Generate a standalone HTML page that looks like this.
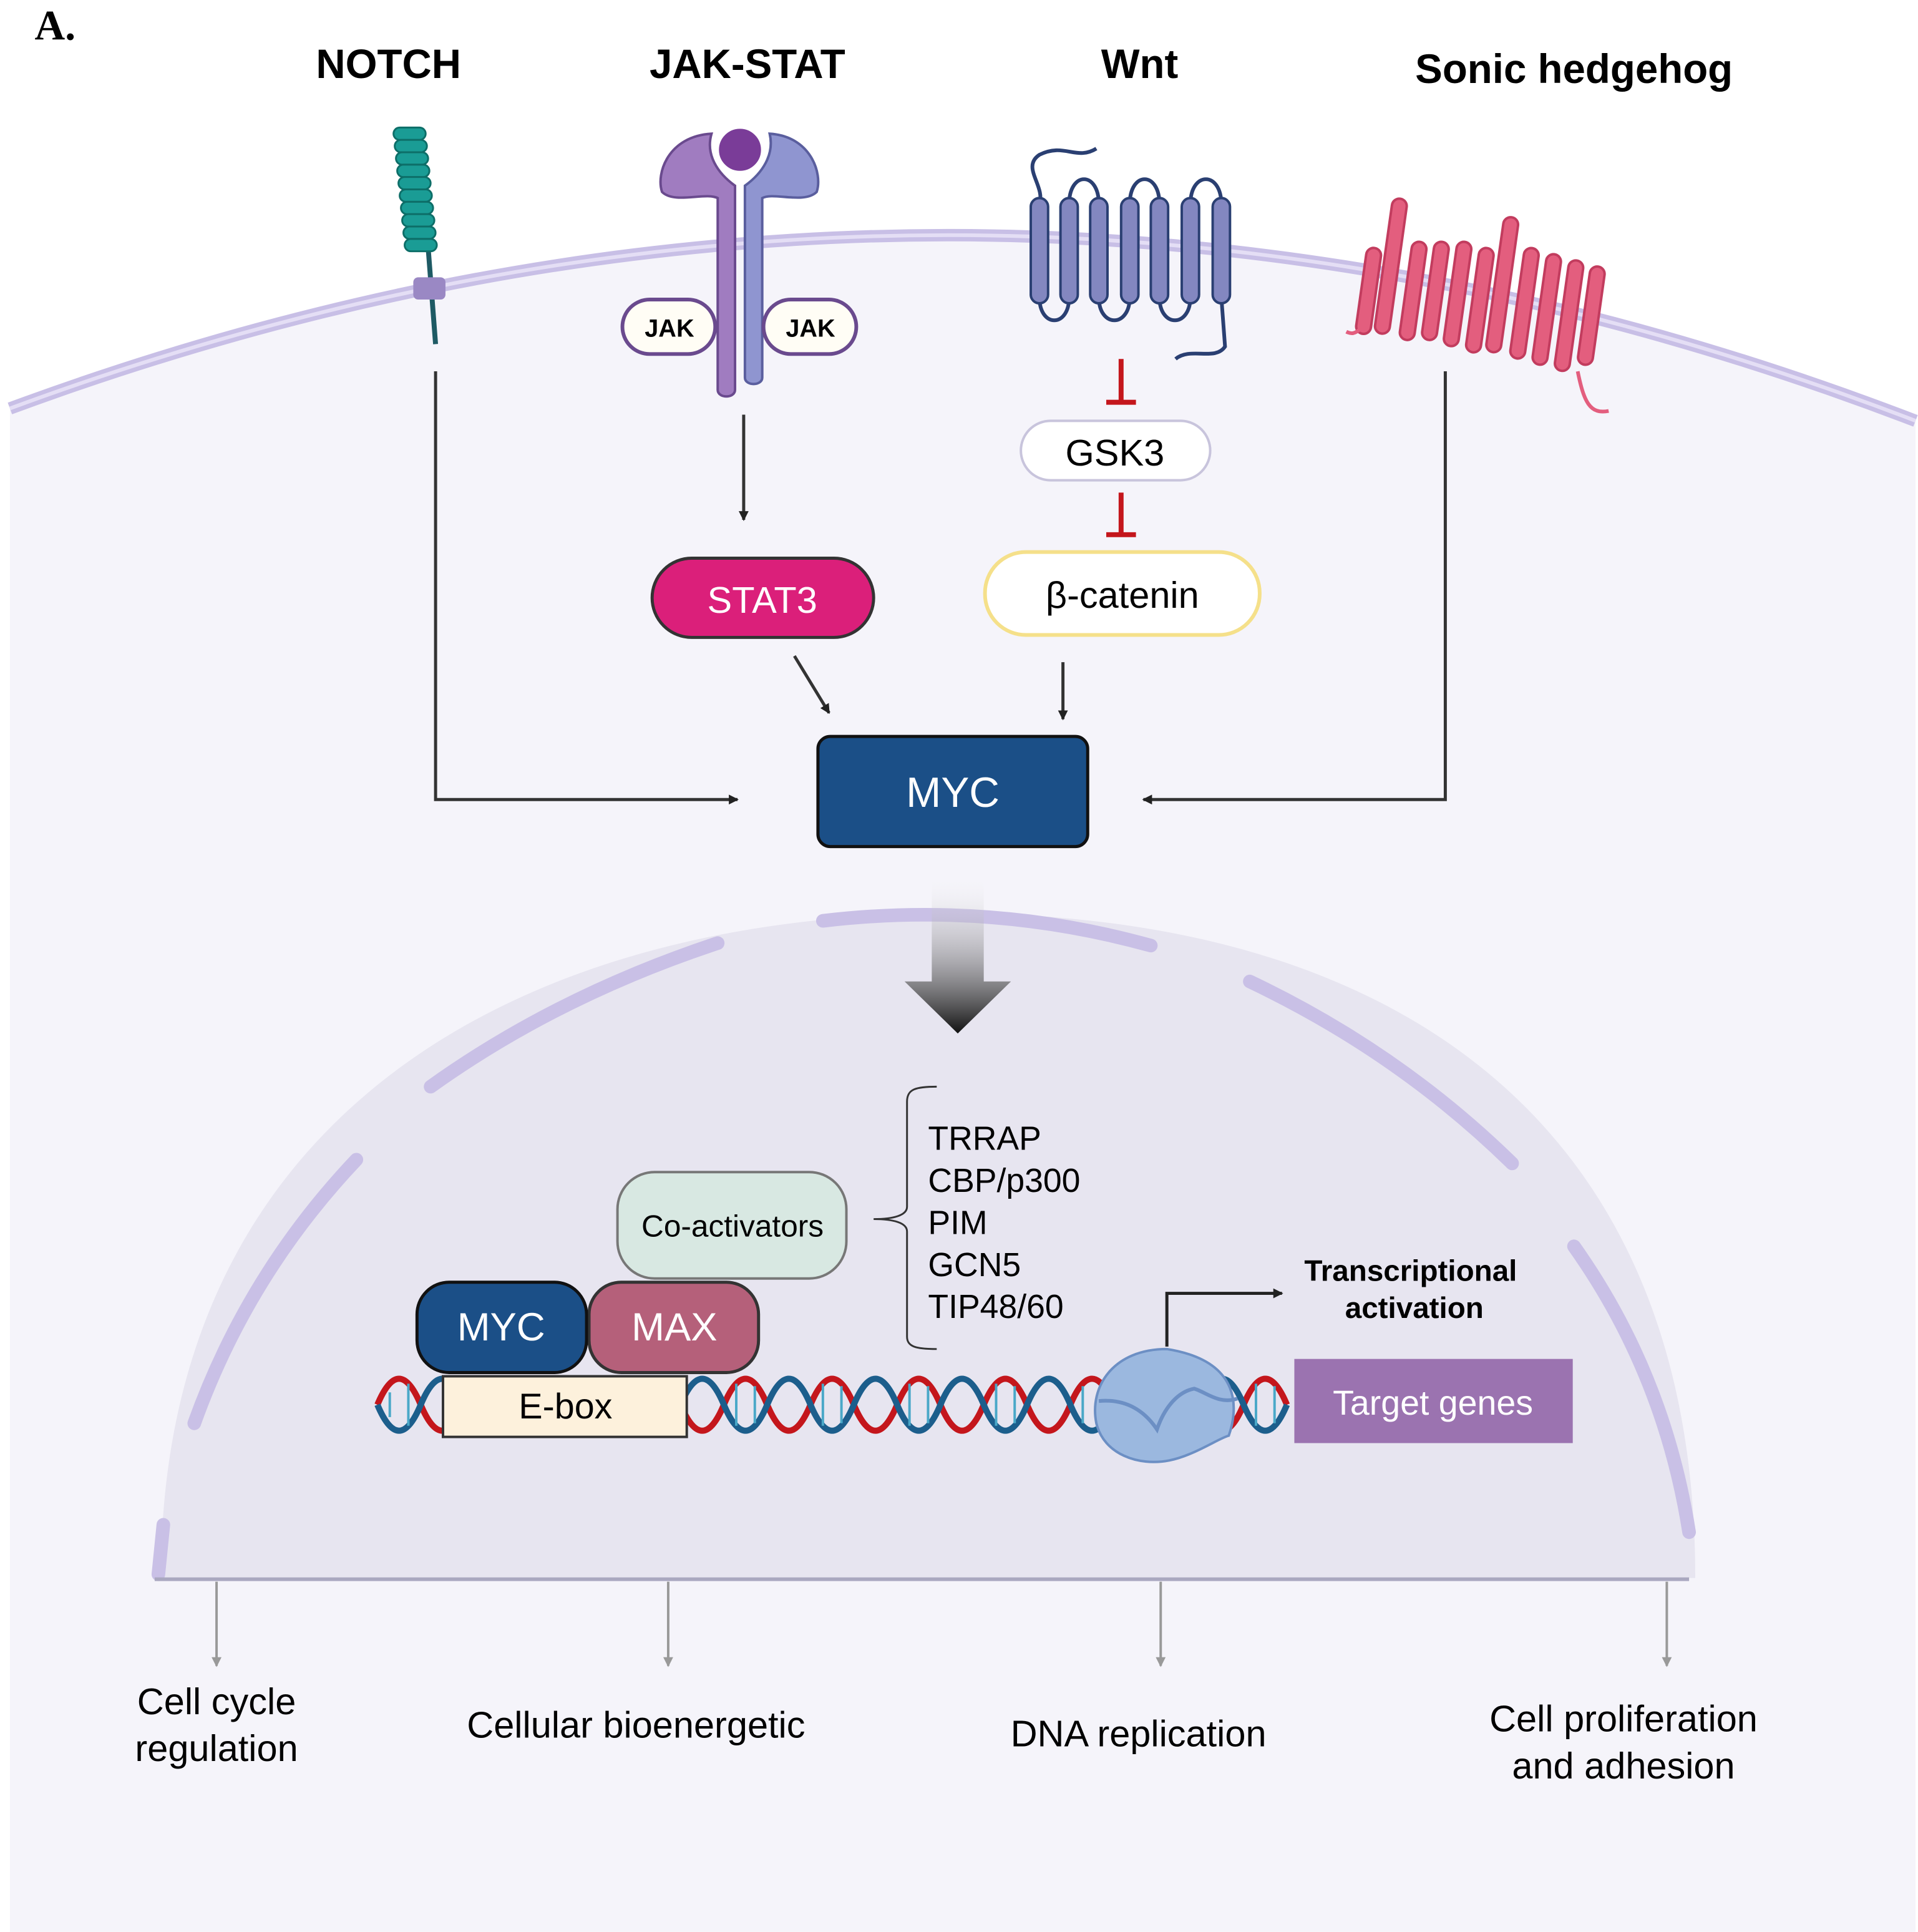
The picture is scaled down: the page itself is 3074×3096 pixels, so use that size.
<!DOCTYPE html>
<html><head><meta charset="utf-8"><style>html,body{margin:0;padding:0;background:#fff}svg{display:block}text{font-family:"Liberation Sans",sans-serif}</style></head>
<body>
<svg width="3074" height="3096" viewBox="0 0 1550 1561" xmlns="http://www.w3.org/2000/svg">
<defs>
<marker id="ah" markerWidth="8" markerHeight="8" refX="7" refY="4" orient="auto" markerUnits="userSpaceOnUse"><path d="M0,0 L8,4 L0,8 Z" fill="#222"/></marker>
<marker id="ag" markerWidth="8" markerHeight="8" refX="7" refY="4" orient="auto" markerUnits="userSpaceOnUse"><path d="M0,0 L8,4 L0,8 Z" fill="#999"/></marker>
<linearGradient id="bigar" x1="0" y1="0" x2="0" y2="1"><stop offset="0" stop-color="#fff" stop-opacity="0"/><stop offset="1" stop-color="#111"/></linearGradient>
</defs>
<rect width="1550" height="1561" fill="#fff"/>
<!-- cell -->
<path d="M8,330 Q780,45 1548,340 L1548,1561 L8,1561 Z" fill="#f5f4fa"/>
<path d="M8,330 Q780,45 1548,340" fill="none" stroke="#c8bfe6" stroke-width="10"/>
<path d="M8,330 Q780,45 1548,340" fill="none" stroke="#e4def5" stroke-width="3"/>
<!-- nucleus -->
<path d="M130,1275 C130,900 420,738 770,738 C1120,738 1370,900 1370,1275 Z" fill="#e7e5f0"/>
<g fill="none" stroke="#c9c0e6" stroke-width="11" stroke-linecap="round">
<path d="M128,1272 L132,1232"/>
<path d="M157,1150 Q200,1030 288,937"/>
<path d="M348,878 Q450,805 580,762"/>
<path d="M665,744 Q800,728 930,764"/>
<path d="M1010,793 Q1130,850 1222,940"/>
<path d="M1272,1007 Q1345,1110 1365,1238"/>
</g>
<line x1="125" y1="1276" x2="1365" y2="1276" stroke="#aaa8c0" stroke-width="3"/>
<g stroke="#999" stroke-width="2" marker-end="url(#ag)">
<line x1="175" y1="1278" x2="175" y2="1346"/><line x1="540" y1="1278" x2="540" y2="1346"/>
<line x1="938" y1="1278" x2="938" y2="1346"/><line x1="1347" y1="1278" x2="1347" y2="1346"/>
</g>
<text x="28" y="32" font-size="34" font-weight="bold" style="font-family:'Liberation Serif',serif">A.</text>
<g font-size="33" font-weight="bold" text-anchor="middle">
<text x="314" y="63">NOTCH</text><text x="604" y="63">JAK-STAT</text><text x="921" y="63">Wnt</text><text x="1272" y="67">Sonic hedgehog</text>
</g>
<!-- NOTCH -->
<line x1="346" y1="200" x2="352" y2="278" stroke="#1e5a64" stroke-width="4"/>
<g fill="#1a9c95" stroke="#0d6e68" stroke-width="1.5">
<rect x="318" y="103" width="26" height="10" rx="5"/><rect x="319" y="113" width="26" height="10" rx="5"/><rect x="320" y="123" width="26" height="10" rx="5"/><rect x="321" y="133" width="26" height="10" rx="5"/><rect x="322" y="143" width="26" height="10" rx="5"/><rect x="323" y="153" width="26" height="10" rx="5"/><rect x="324" y="163" width="26" height="10" rx="5"/><rect x="325" y="173" width="26" height="10" rx="5"/><rect x="326" y="183" width="26" height="10" rx="5"/><rect x="327" y="193" width="26" height="10" rx="5"/>
</g>
<rect x="334" y="224" width="26" height="18" rx="4" fill="#9a88c4"/>
<!-- JAK-STAT receptor -->
<path d="M575,108 C540,110 530,140 535,155 C545,165 570,155 580,160 L580,315 C580,322 594,322 594,315 L594,150 C580,140 570,125 575,108Z" fill="#a07cc0" stroke="#6a4a8e" stroke-width="2"/>
<path d="M622,108 C655,110 665,140 660,155 C650,165 625,155 616,160 L616,305 C616,312 602,312 602,305 L602,150 C616,140 626,125 622,108Z" fill="#8f95d0" stroke="#5a5e9e" stroke-width="2"/>
<circle cx="598" cy="121" r="19" fill="#7a3c98" stroke="#fff" stroke-width="4"/>
<rect x="503" y="242" width="75" height="44" rx="22" fill="#fffdf5" stroke="#6a4a8e" stroke-width="3"/>
<rect x="617" y="242" width="75" height="44" rx="22" fill="#fffdf5" stroke="#6a4a8e" stroke-width="3"/>
<g font-size="20" font-weight="bold" text-anchor="middle"><text x="541" y="272">JAK</text><text x="655" y="272">JAK</text></g>
<!-- Wnt receptor -->
<g fill="none" stroke="#2a3f72" stroke-width="3">
<path d="M886,120 C870,130 860,115 840,125 C825,135 845,150 840,165"/>
<path d="M864,165 C864,138 888,138 888,165 M913,165 C913,138 937,138 937,165 M962,165 C962,138 987,138 987,165"/>
<path d="M840,240 C840,265 864,265 864,240 M888,240 C888,265 913,265 913,240 M937,240 C937,265 962,265 962,240 M987,240 L990,280 C982,292 962,280 950,290"/>
</g>
<g fill="#8387c0" stroke="#2a3f72" stroke-width="2">
<rect x="833" y="160" width="14" height="85" rx="7"/><rect x="857" y="160" width="14" height="85" rx="7"/><rect x="881" y="160" width="14" height="85" rx="7"/><rect x="906" y="160" width="14" height="85" rx="7"/><rect x="930" y="160" width="14" height="85" rx="7"/><rect x="955" y="160" width="14" height="85" rx="7"/><rect x="980" y="160" width="14" height="85" rx="7"/>
</g>
<!-- SHH receptor -->
<g fill="#e35e7e" stroke="#c23c5e" stroke-width="2">
<rect x="1100" y="200" width="12" height="70" rx="6" transform="rotate(8 1106 235)"/><rect x="1118" y="160" width="12" height="110" rx="6" transform="rotate(8 1124 215)"/><rect x="1136" y="195" width="12" height="80" rx="6" transform="rotate(8 1142 235)"/><rect x="1154" y="195" width="12" height="80" rx="6" transform="rotate(8 1160 235)"/><rect x="1172" y="195" width="12" height="85" rx="6" transform="rotate(8 1178 237)"/><rect x="1190" y="200" width="12" height="85" rx="6" transform="rotate(8 1196 242)"/><rect x="1208" y="175" width="12" height="110" rx="6" transform="rotate(8 1214 230)"/><rect x="1226" y="200" width="12" height="90" rx="6" transform="rotate(8 1232 245)"/><rect x="1244" y="205" width="12" height="90" rx="6" transform="rotate(8 1250 250)"/><rect x="1262" y="210" width="12" height="90" rx="6" transform="rotate(8 1268 255)"/><rect x="1280" y="215" width="12" height="80" rx="6" transform="rotate(8 1286 255)"/>
</g>
<path d="M1275,300 C1280,325 1285,335 1300,332 M1100,265 C1095,270 1092,270 1088,268" fill="none" stroke="#e35e7e" stroke-width="3"/>
<!-- connectors -->
<g fill="none" stroke="#333" stroke-width="2.5">
<path d="M352,300 L352,646 L596,646" marker-end="url(#ah)"/>
<path d="M1168,300 L1168,646 L924,646" marker-end="url(#ah)"/>
<path d="M601,335 L601,420" marker-end="url(#ah)"/>
<path d="M642,530 L670,576" marker-end="url(#ah)"/>
<path d="M859,535 L859,581" marker-end="url(#ah)"/>
</g>
<g stroke="#c4161c" stroke-width="4"><line x1="906" y1="290" x2="906" y2="325"/><line x1="894" y1="325" x2="918" y2="325"/><line x1="906" y1="398" x2="906" y2="432"/><line x1="894" y1="432" x2="918" y2="432"/></g>
<rect x="825" y="340" width="153" height="48" rx="24" fill="#fff" stroke="#c8c4dc" stroke-width="2"/>
<text x="901" y="376" font-size="30" text-anchor="middle">GSK3</text>
<rect x="796" y="446" width="222" height="67" rx="33" fill="#fff" stroke="#f5e08a" stroke-width="3"/>
<text x="907" y="491" font-size="30" text-anchor="middle">β-catenin</text>
<rect x="527" y="451" width="179" height="64" rx="32" fill="#db1f7a" stroke="#333" stroke-width="2.5"/>
<text x="616" y="495" font-size="30" fill="#fff" text-anchor="middle">STAT3</text>
<rect x="661" y="595" width="218" height="89" rx="10" fill="#1b4f87" stroke="#111" stroke-width="2.5"/>
<text x="770" y="652" font-size="34" fill="#fff" text-anchor="middle">MYC</text>
<!-- big arrow -->
<path d="M753,705 L795,705 L795,793 L817,793 L774,835 L731,793 L753,793 Z" fill="url(#bigar)"/>
<!-- co-activator list -->
<path d="M757,878 C740,878 733,880 733,890 L733,975 C733,982 722,985 706,985 C722,985 733,988 733,995 L733,1080 C733,1088 740,1090 757,1090" fill="none" stroke="#333" stroke-width="1.5"/>
<g font-size="27"><text x="750" y="929">TRRAP</text><text x="750" y="963">CBP/p300</text><text x="750" y="997">PIM</text><text x="750" y="1031">GCN5</text><text x="750" y="1065">TIP48/60</text></g>
<rect x="499" y="947" width="185" height="86" rx="30" fill="#d8e8e2" stroke="#777" stroke-width="2"/>
<text x="592" y="999" font-size="25" text-anchor="middle">Co-activators</text>
<!-- DNA -->
<path d="M305,1135 q17.5,-42 35,0 t35,0 t35,0 t35,0 t35,0 t35,0 t35,0 t35,0 t35,0 t35,0 t35,0 t35,0 t35,0 t35,0 t35,0 t35,0 t35,0 t35,0 t35,0 t35,0 t35,0" fill="none" stroke="#c4161c" stroke-width="5"/>
<path d="M305,1135 q17.5,42 35,0 t35,0 t35,0 t35,0 t35,0 t35,0 t35,0 t35,0 t35,0 t35,0 t35,0 t35,0 t35,0 t35,0 t35,0 t35,0 t35,0 t35,0 t35,0 t35,0 t35,0" fill="none" stroke="#1c5e8c" stroke-width="5"/>
<path d="M315,1125 v20 M330,1118 v34 M385,1118 v34 M400,1120 v30 M455,1118 v34 M470,1120 v30 M525,1118 v34 M540,1120 v30 M595,1118 v34 M610,1120 v30 M665,1118 v34 M680,1120 v30 M735,1118 v34 M750,1120 v30 M805,1118 v34 M820,1120 v30 M875,1120 v30 M1015,1118 v34 M1030,1120 v30" stroke="#4aa8c8" stroke-width="2"/>
<rect x="358" y="1112" width="197" height="49" fill="#fdf1dc" stroke="#333" stroke-width="2"/>
<text x="457" y="1146" font-size="29" text-anchor="middle">E-box</text>
<rect x="476" y="1036" width="137" height="73" rx="26" fill="#b5607a" stroke="#333" stroke-width="2.5"/>
<text x="545" y="1083" font-size="32" fill="#fff" text-anchor="middle">MAX</text>
<rect x="337" y="1036" width="137" height="73" rx="26" fill="#1b4f87" stroke="#111" stroke-width="2.5"/>
<text x="405" y="1083" font-size="32" fill="#fff" text-anchor="middle">MYC</text>
<!-- polymerase -->
<path d="M943,1090 C900,1090 880,1120 886,1150 C892,1175 920,1185 945,1180 C965,1176 985,1162 993,1160 C1000,1140 1005,1100 943,1090Z" fill="#9bb8df" stroke="#6c8fc4" stroke-width="2"/>
<path d="M888,1132 C910,1130 925,1140 935,1155 C940,1140 950,1125 965,1122 C975,1125 985,1135 1000,1130" fill="none" stroke="#6c8fc4" stroke-width="3"/>
<path d="M943,1088 L943,1045 L1036,1045" fill="none" stroke="#222" stroke-width="2.5" marker-end="url(#ah)"/>
<g font-size="24" font-weight="bold" text-anchor="middle"><text x="1140" y="1035">Transcriptional</text><text x="1143" y="1065">activation</text></g>
<rect x="1046" y="1098" width="225" height="68" fill="#9b73b0"/>
<text x="1158" y="1143" font-size="28" fill="#fff" text-anchor="middle">Target genes</text>
<!-- outcomes -->
<g font-size="30" text-anchor="middle">
<text x="175" y="1385">Cell cycle</text><text x="175" y="1423">regulation</text>
<text x="514" y="1404">Cellular bioenergetic</text>
<text x="920" y="1411">DNA replication</text>
<text x="1312" y="1399">Cell proliferation</text><text x="1312" y="1437">and adhesion</text>
</g>
</svg>
</body></html>
